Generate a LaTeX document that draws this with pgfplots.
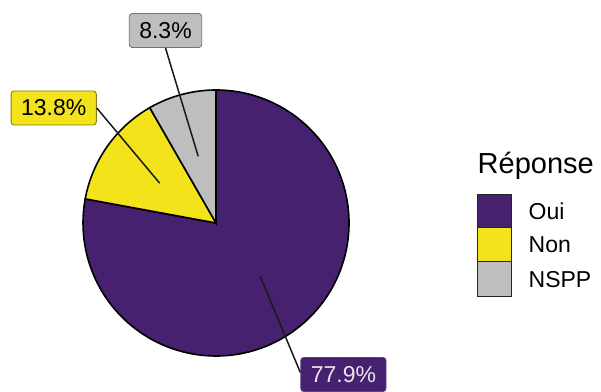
\documentclass[border=0pt]{standalone}
\usepackage{pgfplots}
\pgfplotsset{compat=1.18}
\usepackage{fontspec}
\setmainfont{Liberation Sans}

\definecolor{oui}{HTML}{46216F}
\definecolor{non}{HTML}{F2E31B}
\definecolor{nspp}{HTML}{BEBEBE}

\tikzset{lbl/.style={rounded corners=3bp, line width=0.9bp, minimum height=34bp,
    inner xsep=10bp, font=\fontsize{23bp}{27bp}\selectfont}}

\begin{document}
\begin{tikzpicture}
% share of each answer, in percent
\def\vOui{77.9}
\def\vNon{13.8}
\def\vNSPP{8.3}
% slices start at 12 o'clock and run clockwise
\pgfmathsetmacro\aA{90}
\pgfmathsetmacro\aB{\aA-3.6*\vOui}
\pgfmathsetmacro\aC{\aB-3.6*\vNon}
\pgfmathsetmacro\aD{\aC-3.6*\vNSPP}
\pgfmathsetmacro\mA{(\aA+\aB)/2}
\pgfmathsetmacro\mB{(\aB+\aC)/2}
\pgfmathsetmacro\mC{(\aC+\aD)/2}
\def\R{133bp}
\useasboundingbox (0,0) rectangle (601bp,392bp);
\begin{axis}[
    x=1bp, y=1bp,
    xmin=0, xmax=601, ymin=0, ymax=392,
    scale only axis,
    hide axis,
    clip=false,
    at={(0,0)}, anchor=origin,
]
\addplot[draw=none] coordinates {(0,0) (601,392)};

% pie
\filldraw[fill=oui, draw=black, line width=1.6bp] (axis cs:216,169) -- ++(\aA:\R)
    arc[start angle=\aA, end angle=\aB, radius=\R] -- cycle;
\filldraw[fill=non, draw=black, line width=1.6bp] (axis cs:216,169) -- ++(\aB:\R)
    arc[start angle=\aB, end angle=\aC, radius=\R] -- cycle;
\filldraw[fill=nspp, draw=black, line width=1.6bp] (axis cs:216,169) -- ++(\aC:\R)
    arc[start angle=\aC, end angle=\aD, radius=\R] -- cycle;

% labels
\node[lbl, fill=nspp, draw=black!55] (lC) at (axis cs:165.5,361.5) {8.3\%};
\node[lbl, fill=non, draw=black!45!non] (lB) at (axis cs:53.7,284) {13.8\%};
\node[lbl, fill=oui, draw=oui!85!white, text=white!88!oui] (lA) at (axis cs:343.4,17.5) {77.9\%};

\draw[line width=1.5bp, black!90] (axis cs:216,169) ++(\mC:69bp) -- (lC.south);
\draw[line width=1.5bp, black!90] (axis cs:216,169) ++(\mB:69bp) -- (lB.east);
\draw[line width=1.5bp, black!90] (axis cs:216,169) ++(\mA:69bp) -- ([yshift=2bp]lA.west);

% legend
\node[anchor=base west, inner sep=0pt, font=\fontsize{29bp}{34bp}\selectfont]
    at (axis cs:477.5,218.7) {Réponse};
\filldraw[fill=oui, draw=black!85, line width=1.5bp] (axis cs:477.5,164.3) rectangle (axis cs:511.5,197.7);
\filldraw[fill=non, draw=black!85, line width=1.5bp] (axis cs:477.5,130.3) rectangle (axis cs:511.5,164.3);
\filldraw[fill=nspp, draw=black!85, line width=1.5bp] (axis cs:477.5,95.3) rectangle (axis cs:511.5,130.3);
\node[anchor=west, inner sep=0pt, font=\fontsize{23bp}{27bp}\selectfont] at (axis cs:528.5,181) {Oui};
\node[anchor=west, inner sep=0pt, font=\fontsize{23bp}{27bp}\selectfont] at (axis cs:528.5,147.3) {Non};
\node[anchor=west, inner sep=0pt, font=\fontsize{23bp}{27bp}\selectfont] at (axis cs:528.5,112.8) {NSPP};
\end{axis}
\end{tikzpicture}
\end{document}
